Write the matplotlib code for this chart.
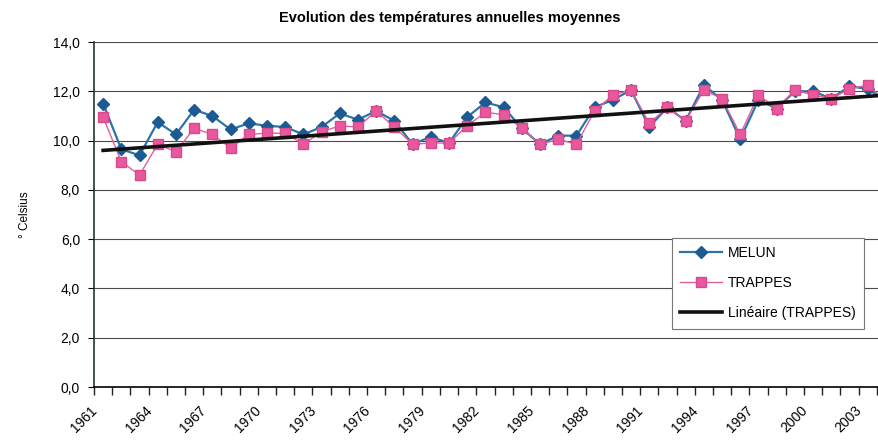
#--------------------------------------------------------------------------------
# Modules
import numpy as np
import matplotlib
matplotlib.use('Agg')
import matplotlib.pyplot as plt
import matplotlib.transforms as mtrans
from matplotlib.ticker import FuncFormatter
#--------------------------------------------------------------------------------
# Donnees
annees = list(range(1961, 2005))
melun = [11.5, 9.65, 9.4, 10.75, 10.25, 11.25, 11.0, 10.45, 10.7, 10.6,
         10.55, 10.25, 10.55, 11.1, 10.85, 11.2, 10.8, 9.85, 10.15, 9.9,
         10.95, 11.55, 11.35, 10.5, 9.85, 10.2, 10.2, 11.35, 11.65, 12.05,
         10.55, 11.35, 10.8, 12.25, 11.65, 10.05, 11.65, 11.3, 12.0, 12.0,
         11.7, 12.2, 12.1, 11.6]
trappes = [10.95, 9.15, 8.6, 9.85, 9.55, 10.5, 10.25, 9.7, 10.25, 10.3,
           10.3, 9.85, 10.35, 10.6, 10.55, 11.2, 10.55, 9.85, 9.9, 9.9,
           10.6, 11.15, 11.05, 10.5, 9.85, 10.05, 9.85, 11.2, 11.85, 12.05,
           10.7, 11.35, 10.8, 12.05, 11.7, 10.25, 11.85, 11.3, 12.05, 11.85,
           11.7, 12.1, 12.25, 11.6]
titre = 'Evolution des températures annuelles moyennes'
#--------------------------------------------------------------------------------
plt.rcParams['font.family'] = ['Liberation Sans', 'DejaVu Sans']

x = np.arange(len(annees))
# Tendance lineaire (TRAPPES), comme la courbe de tendance d'Excel
coef = np.polyfit(x, trappes, 1)
tendance = np.polyval(coef, x)

fig = plt.figure(figsize=(8.79, 4.40), dpi=100)
# axe qui depasse a droite (graphique coupe dans l'original)
ax = fig.add_axes([94/879., 53/440., 801/879., 345/440.])

# Grille horizontale
for v in np.arange(2, 15, 2):
    ax.axhline(v, color='#4a4a4a', lw=0.8, zorder=1)

ax.plot(x, melun, color='#2b74a8', lw=1.6, marker='D', ms=6,
        mfc='#1b5a92', mec='#1b5a92', label='MELUN', zorder=3)
ax.plot(x, trappes, color='#e0609a', lw=1.0, marker='s', ms=7.5,
        mfc='#e8589c', mec='#d94a8c', label='TRAPPES', zorder=4)
ax.plot(x, tendance, color='#111111', lw=2.6, label='Linéaire (TRAPPES)', zorder=5)

# Axes
ax.set_xlim(-0.5, len(annees) - 0.5)
ax.set_ylim(0, 14)
ax.set_yticks(np.arange(0, 15, 2))
ax.yaxis.set_major_formatter(FuncFormatter(lambda v, p: ('%.1f' % v).replace('.', ',')))
ax.set_xticks(np.arange(-0.5, len(annees), 1), minor=True)
ax.set_xticks(x[::3])
ax.tick_params(axis='x', which='major', length=0, pad=12)
ax.tick_params(axis='x', which='minor', length=6, width=1.0, color='#222222')
ax.tick_params(axis='y', length=4, labelsize=10, pad=6)
ax.set_xticklabels([str(a) for a in annees[::3]], rotation=45, ha='right',
                   va='top', rotation_mode='anchor', fontsize=10)
# decalage des etiquettes vers la gauche (a la Excel)
decal = mtrans.ScaledTranslation(-13/100., 0, fig.dpi_scale_trans)
for lab in ax.get_xticklabels():
    lab.set_transform(lab.get_transform() + decal)
for cote in ['top', 'right']:
    ax.spines[cote].set_visible(False)
ax.spines['left'].set_color('#1e3a2a')
ax.spines['left'].set_linewidth(1.2)
ax.spines['bottom'].set_linewidth(1.2)

ax.set_ylabel('° Celsius', fontsize=8.5, labelpad=16)
fig.text(450/879., 1 - 18/440., titre, ha='center', va='center',
         fontsize=10.5, fontweight='bold')

leg = ax.legend(loc='upper left', bbox_to_anchor=(672/879., 1 - 238/440.),
                bbox_transform=fig.transFigure, borderaxespad=0, fontsize=10,
                handlelength=3.0, handletextpad=0.45, labelspacing=1.15,
                borderpad=0.6, fancybox=False, framealpha=1,
                edgecolor='#777777')
leg.get_frame().set_linewidth(0.8)
leg.set_zorder(10)

fig.savefig('out.png', dpi=100)
plt.close()
